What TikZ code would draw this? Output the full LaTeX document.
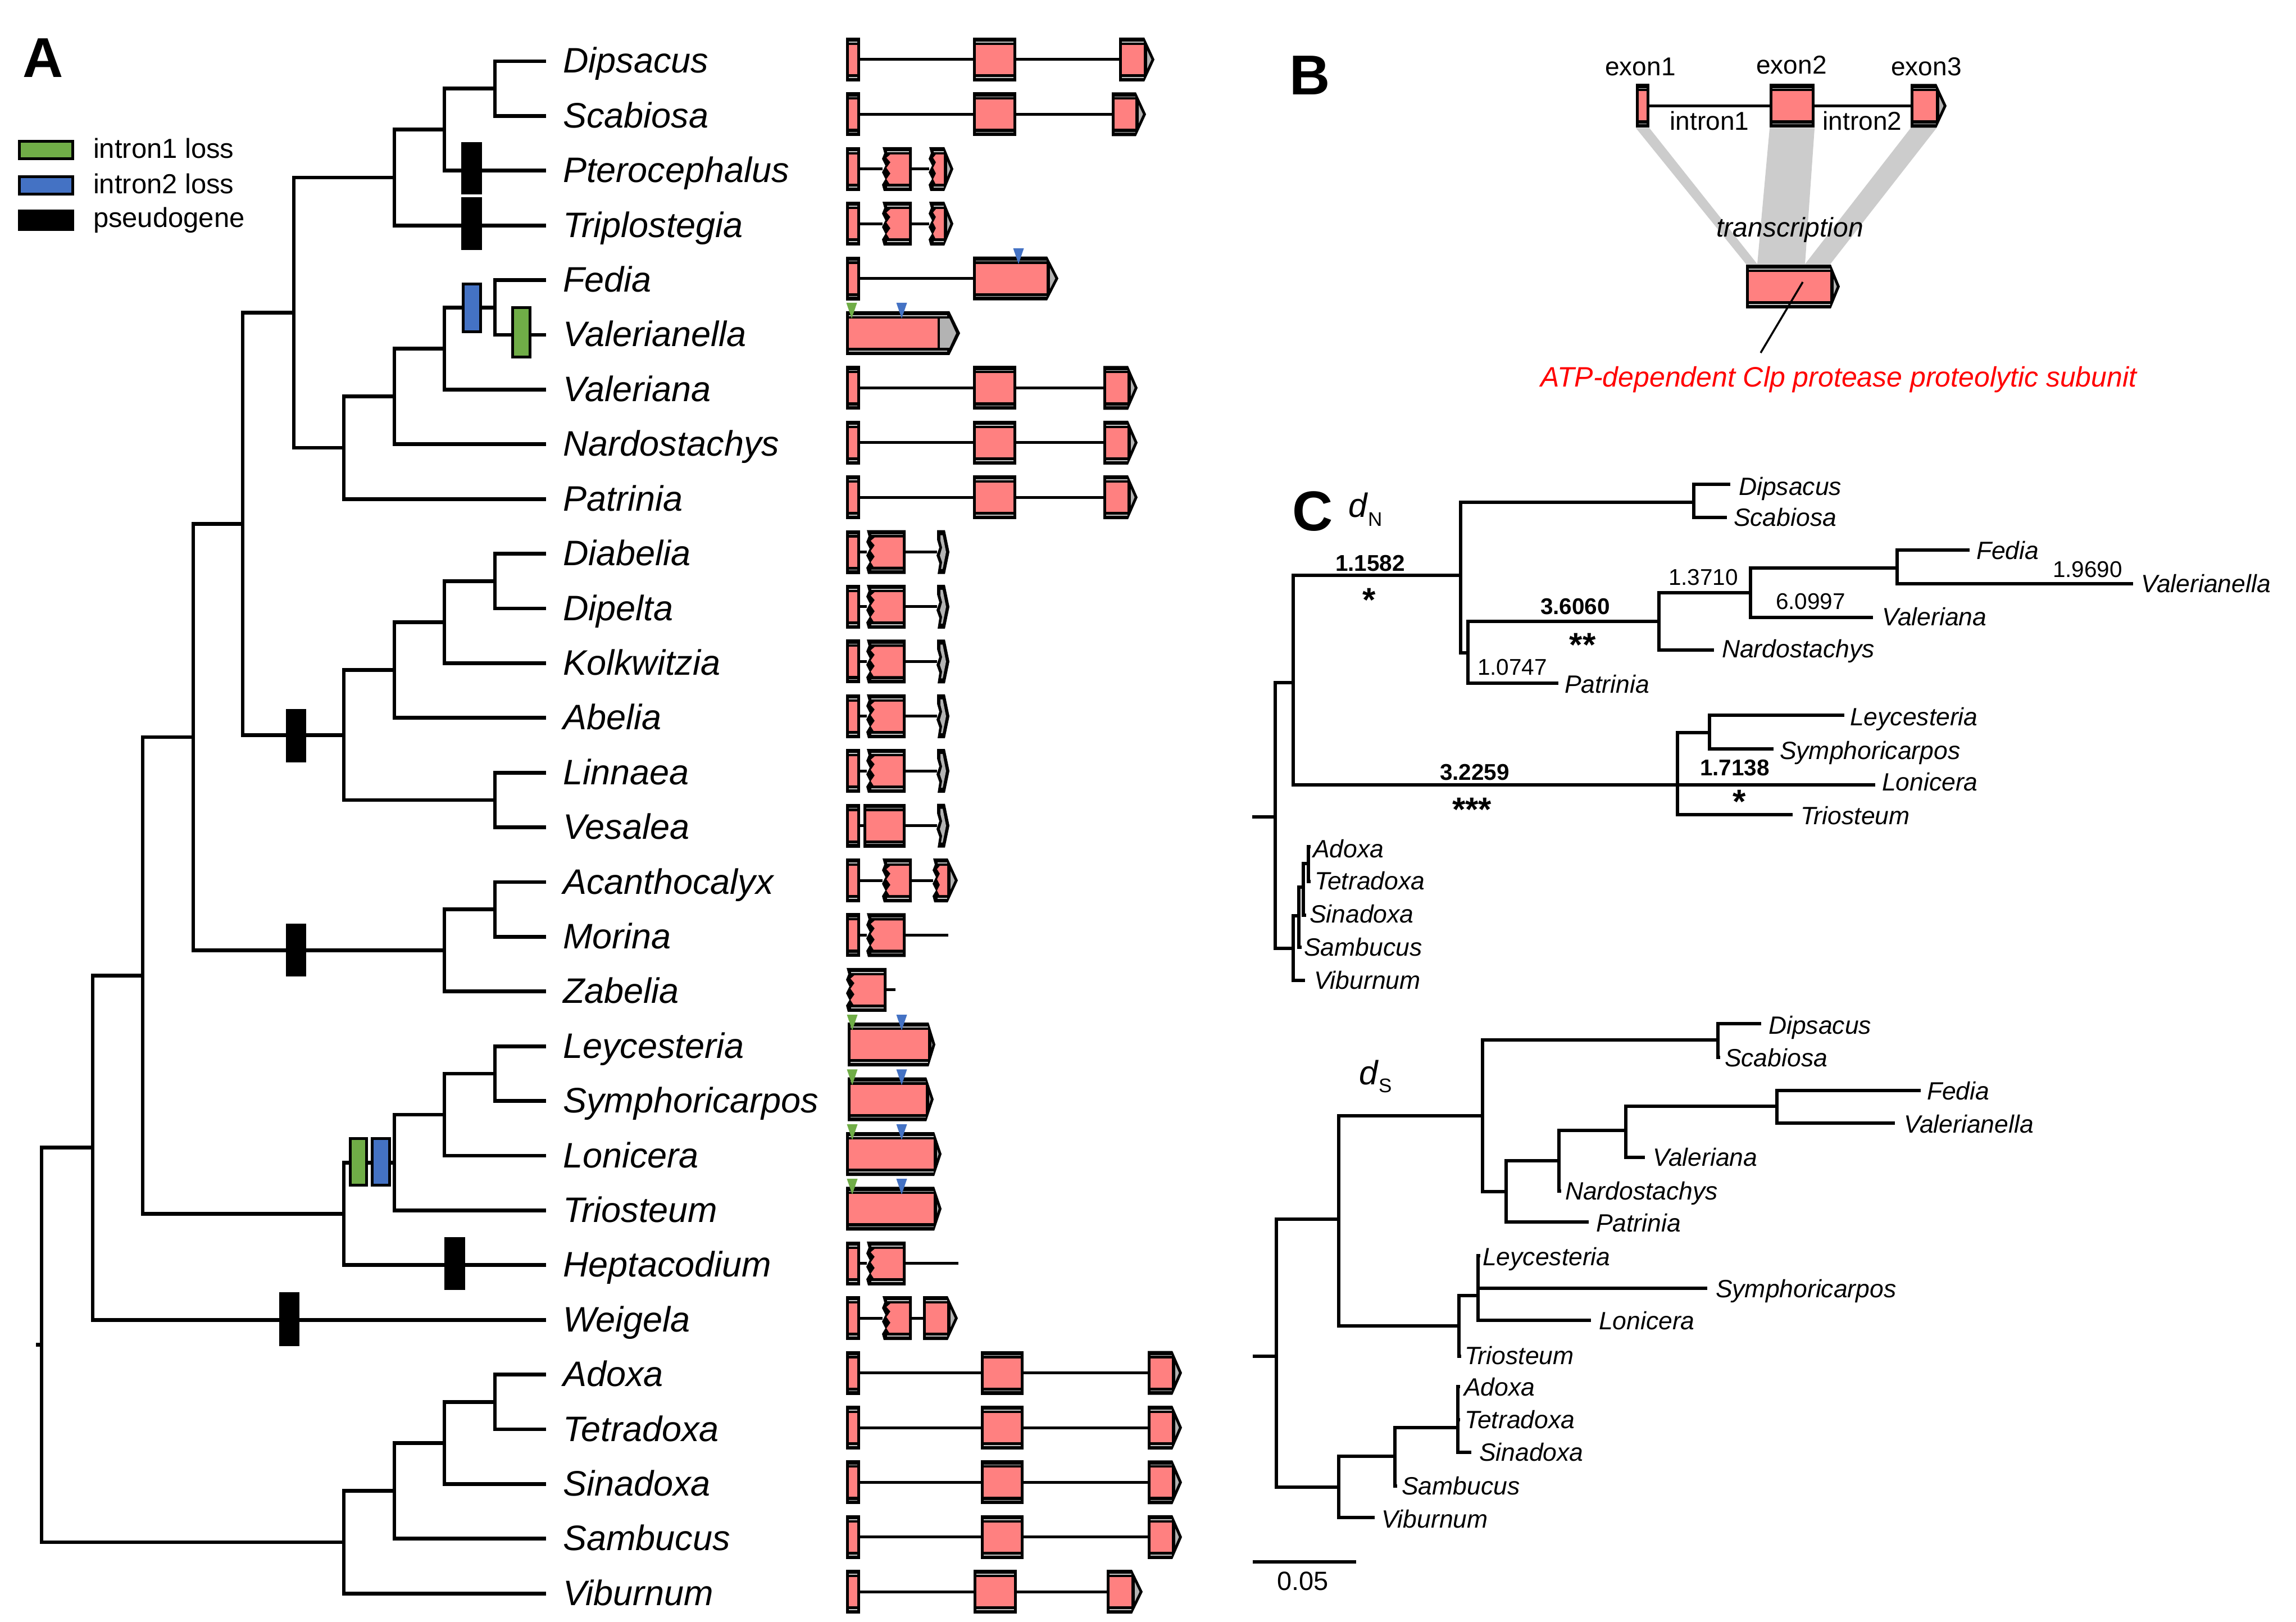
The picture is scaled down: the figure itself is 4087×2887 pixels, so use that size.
\documentclass[tikz,border=0pt]{standalone}
\usepackage{fontspec}
\setmainfont{Liberation Sans}
\definecolor{exonpink}{HTML}{FF8080}
\definecolor{arrowgray}{HTML}{B3B3B3}
\definecolor{bandgray}{HTML}{CCCCCC}
\definecolor{lossgreen}{HTML}{70AD47}
\definecolor{lossblue}{HTML}{4472C4}
\definecolor{thinc}{HTML}{C8C8C8}
\definecolor{redtext}{HTML}{FF0000}
\tikzset{
  tree/.style={line width=1.35pt},
  ctree/.style={line width=1.15pt},
  intronline/.style={line width=1pt},
  thinline/.style={draw=thinc, line width=0.3pt},
  lossbox/.style={draw=black, line width=1pt},
  taxA/.style={font=\fontsize{12.6}{14}\selectfont\itshape, inner sep=0pt, outer sep=0pt, anchor=base west},
  taxC/.style={font=\fontsize{8.9}{10}\selectfont\itshape, inner sep=0pt, outer sep=0pt, anchor=base west},
  blab/.style={font=\fontsize{8.1}{9}\selectfont, inner sep=0pt, anchor=base},
  blabb/.style={font=\fontsize{8.1}{9}\selectfont\bfseries, inner sep=0pt, anchor=base},
  starlab/.style={font=\fontsize{12}{13}\selectfont\bfseries, inner sep=0pt, anchor=base},
  plab/.style={font=\fontsize{20}{22}\selectfont\bfseries, inner sep=0pt, anchor=base west},
  leg/.style={font=\fontsize{9.8}{11}\selectfont, inner sep=0pt, anchor=base west},
  btext/.style={font=\fontsize{9.2}{11}\selectfont, inner sep=0pt, anchor=base},
}
% standard exon
\newcommand\gExon[3]{%
  \fill[black] (#1,#3-39) rectangle (#2,#3+39);
  \fill[exonpink] (#1+5,#3-26) rectangle (#2-5,#3+26);
  \draw[thinline] (#1+5,#3-31) -- (#2-5,#3-31) (#1+5,#3+32) -- (#2-5,#3+32);
}
% exon with torn left edge
\newcommand\gExonZ[3]{%
  \fill[black] (#1,#3-39) -- (#2,#3-39) -- (#2,#3+39) -- (#1+2,#3+39) -- (#1-1,#3+28) -- (#1+5,#3+18) -- (#1-1,#3+6) -- (#1+5,#3-6) -- (#1-1,#3-18) -- (#1+3,#3-28) -- cycle;
  \fill[exonpink] (#1+14,#3-26) -- (#2-5,#3-26) -- (#2-5,#3+26) -- (#1+12,#3+26) -- (#1+7,#3+18) -- (#1+14,#3+8) -- (#1+7,#3-2) -- (#1+14,#3-12) -- (#1+7,#3-20) -- cycle;
  \draw[thinline] (#1+8,#3-31) -- (#2-5,#3-31) (#1+8,#3+32) -- (#2-5,#3+32);
}
% terminal exon with arrow point
\newcommand\gArrow[4]{%
  \pgfmathsetmacro\gL{#3-#2}%
  \pgfmathsetmacro\gS{5/sin(atan(39/\gL))}%
  \pgfmathsetmacro\gH{max(0,(\gL-5-\gS)*39/\gL)}%
  \fill[black] (#1,#4-39) -- (#2,#4-39) -- (#3,#4) -- (#2,#4+39) -- (#1,#4+39) -- cycle;
  \fill[arrowgray] (#2+5,#4-\gH) -- (#3-\gS,#4) -- (#2+5,#4+\gH) -- cycle;
  \fill[exonpink] (#1+5,#4-26) rectangle (#2-1,#4+26);
  \draw[thinline] (#1+5,#4-31) -- (#2-1,#4-31) (#1+5,#4+32) -- (#2-1,#4+32);
}
% terminal exon with arrow point and torn left edge
\newcommand\gArrowZ[4]{%
  \pgfmathsetmacro\gL{#3-#2}%
  \pgfmathsetmacro\gS{5/sin(atan(39/\gL))}%
  \pgfmathsetmacro\gH{max(0,(\gL-5-\gS)*39/\gL)}%
  \fill[black] (#1,#4-39) -- (#2,#4-39) -- (#3,#4) -- (#2,#4+39) -- (#1+2,#4+39) -- (#1-1,#4+28) -- (#1+5,#4+18) -- (#1-1,#4+6) -- (#1+5,#4-6) -- (#1-1,#4-18) -- (#1+3,#4-28) -- cycle;
  \fill[arrowgray] (#2+5,#4-\gH) -- (#3-\gS,#4) -- (#2+5,#4+\gH) -- cycle;
  \fill[exonpink] (#1+12,#4-26) -- (#2-1,#4-26) -- (#2-1,#4+26) -- (#1+11,#4+26) -- (#1+7,#4+18) -- (#1+12,#4+8) -- (#1+7,#4-2) -- (#1+12,#4-12) -- (#1+7,#4-20) -- cycle;
  \draw[thinline] (#1+8,#4-31) -- (#2-1,#4-31) (#1+8,#4+32) -- (#2-1,#4+32);
}
% narrow grey chevron exon
\newcommand\gChev[3]{%
  \fill[black] (#1,#3-39) -- (#1+14,#3-39) -- (#2,#3) -- (#1+14,#3+39) -- (#1+1,#3+39) -- (#1+4,#3+20) -- (#1-1,#3+6) -- (#1+4,#3-8) -- (#1,#3-22) -- cycle;
  \fill[arrowgray] (#1+6,#3-30) -- (#1+10,#3-30) -- (#2-6,#3) -- (#1+10,#3+30) -- (#1+7,#3+30) -- (#1+9,#3+18) -- (#1+5,#3+6) -- (#1+9,#3-8) -- (#1+6,#3-20) -- cycle;
}
\newcommand\gIntron[3]{\draw[intronline] (#1,#3) -- (#2,#3);}
% three-exon gene: y, exon2 start, exon2 end, exon3 start, exon3 end, tip
\newcommand\gThree[6]{%
  \gIntron{1531}{#2}{#1}\gIntron{#3}{#4}{#1}%
  \gExon{1506}{1531}{#1}\gExon{#2}{#3}{#1}\gArrow{#4}{#5}{#6}{#1}%
}
\newcommand\gTri[3]{\fill[#1] (#2-9.5,#3) -- (#2+9.5,#3) -- (#2,#3+28) -- cycle;}
\begin{document}
\begin{tikzpicture}[x=0.2pt,y=-0.2pt]
\fill[white] (0,0) rectangle (4087,2887);
\useasboundingbox (0,0) rectangle (4087,2887);

%================ PANEL A ================
\node[plab] (labA) at (39,138) {A};
\draw[lossbox, fill=lossgreen] (34.5,251.5) rectangle (129.5,282.5);
\draw[lossbox, fill=lossblue] (34.5,314.5) rectangle (129.5,345.5);
\fill[black] (32,373) rectangle (132,411);
\node[leg] (lg1) at (165,282) {intron1 loss};
\node[leg] (lg2) at (165,345) {intron2 loss};
\node[leg] (lg3) at (165,405) {pseudogene};

\foreach \nm [count=\i from 0] in {Dipsacus,Scabiosa,Pterocephalus,Triplostegia,Fedia,Valerianella,Valeriana,Nardostachys,Patrinia,Diabelia,Dipelta,Kolkwitzia,Abelia,Linnaea,Vesalea,Acanthocalyx,Morina,Zabelia,Leycesteria,Symphoricarpos,Lonicera,Triosteum,Heptacodium,Weigela,Adoxa,Tetradoxa,Sinadoxa,Sambucus,Viburnum}{
  \pgfmathsetmacro\yy{109+97.4*\i}
  \node[taxA] (a\i) at (1002,\yy+21) {\nm};
  \coordinate (tip\i) at (972,\yy);
}

\coordinate (nDS) at (881,157.7);
\coordinate (nDSP) at (791,230.75);
\coordinate (nDSPT) at (702,316);
\coordinate (nFV) at (881,547.3);
\coordinate (nFVV) at (791,620.35);
\coordinate (nFVVN) at (702,705.6);
\coordinate (nVal) at (612,796.9);
\coordinate (nDipVal) at (523,556.4);
\coordinate (nDD) at (881,1034.3);
\coordinate (nDDK) at (791,1107.35);
\coordinate (nDDKA) at (702,1192.6);
\coordinate (nLV) at (881,1423.9);
\coordinate (nLinn) at (612,1308.25);
\coordinate (nDVL) at (432,932.3);
\coordinate (nAM) at (881,1618.7);
\coordinate (nMor) at (791,1691.75);
\coordinate (nDVLM) at (344,1312);
\coordinate (nLS) at (881,1910.9);
\coordinate (nLSL) at (791,1984);
\coordinate (nLSLT) at (702,2069.2);
\coordinate (nCap) at (612,2160.5);
\coordinate (nCapr) at (254,1736.25);
\coordinate (nCaprW) at (165,2042.7);
\coordinate (nAT) at (881,2495.3);
\coordinate (nATS) at (791,2568.35);
\coordinate (nATSS) at (702,2653.6);
\coordinate (nAdox) at (612,2744.9);
\coordinate (nRoot) at (74,2393.8);
\coordinate (nStub) at (64,2393.8);

\draw[tree] (nDS) |- (tip0) (nDS) |- (tip1);
\draw[tree] (nDSP) |- (nDS) (nDSP) |- (tip2);
\draw[tree] (nDSPT) |- (nDSP) (nDSPT) |- (tip3);
\draw[tree] (nFV) |- (tip4) (nFV) |- (tip5);
\draw[tree] (nFVV) |- (nFV) (nFVV) |- (tip6);
\draw[tree] (nFVVN) |- (nFVV) (nFVVN) |- (tip7);
\draw[tree] (nVal) |- (nFVVN) (nVal) |- (tip8);
\draw[tree] (nDipVal) |- (nDSPT) (nDipVal) |- (nVal);
\draw[tree] (nDD) |- (tip9) (nDD) |- (tip10);
\draw[tree] (nDDK) |- (nDD) (nDDK) |- (tip11);
\draw[tree] (nDDKA) |- (nDDK) (nDDKA) |- (tip12);
\draw[tree] (nLV) |- (tip13) (nLV) |- (tip14);
\draw[tree] (nLinn) |- (nDDKA) (nLinn) |- (nLV);
\draw[tree] (nDVL) |- (nDipVal) (nDVL) |- (nLinn);
\draw[tree] (nAM) |- (tip15) (nAM) |- (tip16);
\draw[tree] (nMor) |- (nAM) (nMor) |- (tip17);
\draw[tree] (nDVLM) |- (nDVL) (nDVLM) |- (nMor);
\draw[tree] (nLS) |- (tip18) (nLS) |- (tip19);
\draw[tree] (nLSL) |- (nLS) (nLSL) |- (tip20);
\draw[tree] (nLSLT) |- (nLSL) (nLSLT) |- (tip21);
\draw[tree] (nCap) |- (nLSLT) (nCap) |- (tip22);
\draw[tree] (nCapr) |- (nDVLM) (nCapr) |- (nCap);
\draw[tree] (nCaprW) |- (nCapr) (nCaprW) |- (tip23);
\draw[tree] (nAT) |- (tip24) (nAT) |- (tip25);
\draw[tree] (nATS) |- (nAT) (nATS) |- (tip26);
\draw[tree] (nATSS) |- (nATS) (nATSS) |- (tip27);
\draw[tree] (nAdox) |- (nATSS) (nAdox) |- (tip28);
\draw[tree] (nRoot) |- (nCaprW) (nRoot) |- (nAdox);
\draw[tree] (nStub) -- (nRoot);

% events on the tree
\fill[black] (821,253) rectangle (858,346);
\fill[black] (821,351) rectangle (858,445);
\draw[lossbox, fill=lossblue] (824.5,505.5) rectangle (855.5,590.5);
\draw[lossbox, fill=lossgreen] (912.5,547.5) rectangle (943.5,635.5);
\fill[black] (509,1262) rectangle (545,1357);
\fill[black] (509,1644) rectangle (545,1738);
\draw[lossbox, fill=lossgreen] (623.5,2026.5) rectangle (652.5,2109.5);
\draw[lossbox, fill=lossblue] (662.5,2026.5) rectangle (693.5,2109.5);
\fill[black] (791,2202) rectangle (828,2296);
\fill[black] (497,2300) rectangle (533,2396);

% gene structures
\gThree{106}{1732}{1809}{1992}{2037}{2055}
\gThree{203.4}{1732}{1809}{1979}{2022}{2040}
\foreach \yy in {300.8,398.2}{
  \gIntron{1531}{1571}{\yy}\gIntron{1623}{1654}{\yy}
  \gExon{1506}{1531}{\yy}\gExonZ{1571}{1623}{\yy}\gArrowZ{1654}{1681}{1697}{\yy}
}
% Fedia
\gIntron{1531}{1732}{495.6}
\gExon{1506}{1531}{495.6}\gArrow{1732}{1864}{1884}{495.6}
\gTri{lossblue}{1813}{442}
% Valerianella
\fill[black] (1506,554) -- (1690,554) -- (1709,593) -- (1690,632) -- (1506,632) -- cycle;
\fill[arrowgray] (1673,567) -- (1690,567) -- (1702,593) -- (1690,619) -- (1673,619) -- cycle;
\fill[exonpink] (1511,567) rectangle (1669,619);
\draw[thinline] (1511,562) -- (1686,562) (1511,625) -- (1686,625);
\gTri{lossgreen}{1516}{539}
\gTri{lossblue}{1605}{539}
% Valeriana, Nardostachys, Patrinia
\gThree{690.4}{1732}{1809}{1964}{2008}{2025}
\gThree{787.8}{1732}{1809}{1964}{2008}{2025}
\gThree{885.2}{1732}{1809}{1964}{2008}{2025}
% Linnaeoideae
\foreach \yy in {982.6,1080,1177.4,1274.8,1372.2}{
  \gIntron{1531}{1543}{\yy}\gIntron{1612}{1668}{\yy}
  \gExon{1506}{1531}{\yy}\gExonZ{1543}{1612}{\yy}\gChev{1668}{1690}{\yy}
}
\gIntron{1531}{1537}{1469.6}\gIntron{1612}{1668}{1469.6}
\gExon{1506}{1531}{1469.6}\gExon{1537}{1612}{1469.6}\gChev{1668}{1690}{1469.6}
% Acanthocalyx
\gIntron{1531}{1571}{1567}\gIntron{1623}{1661}{1567}
\gExon{1506}{1531}{1567}\gExonZ{1571}{1623}{1567}\gArrowZ{1661}{1687}{1705}{1567}
% Morina
\gIntron{1531}{1543}{1664.4}\gIntron{1612}{1688}{1664.4}
\gExon{1506}{1531}{1664.4}\gExonZ{1543}{1612}{1664.4}
% Zabelia
\gIntron{1578}{1594}{1761.8}
\gExonZ{1507}{1578}{1761.8}
% Caprifolieae
\gArrow{1509}{1653}{1665}{1859.2}
\gArrow{1509}{1649}{1662}{1956.6}
\gArrow{1506}{1663}{1676}{2054}
\gArrow{1506}{1663}{1676}{2151.4}
\foreach \yy in {1806,1903.4,2001,2098.2}{
  \gTri{lossgreen}{1517}{\yy}
  \gTri{lossblue}{1605}{\yy}
}
% Heptacodium
\gIntron{1531}{1543}{2248.8}\gIntron{1612}{1706}{2248.8}
\gExon{1506}{1531}{2248.8}\gExonZ{1543}{1612}{2248.8}
% Weigela
\gIntron{1531}{1571}{2346.2}\gIntron{1623}{1643}{2346.2}
\gExon{1506}{1531}{2346.2}\gExonZ{1571}{1623}{2346.2}\gArrow{1643}{1687}{1705}{2346.2}
% Adoxaceae
\gThree{2443.6}{1746}{1822}{2043}{2087}{2104}
\gThree{2541}{1746}{1822}{2043}{2087}{2104}
\gThree{2638.4}{1746}{1822}{2043}{2087}{2104}
\gThree{2735.8}{1746}{1822}{2043}{2087}{2104}
\gThree{2833.2}{1733}{1810}{1970}{2015}{2034}

%================ PANEL B ================
\node[plab] (labB) at (2294,169) {B};
\fill[bandgray] (2912,228) -- (2936,228) -- (3128,470) -- (3108,470) -- cycle;
\fill[bandgray] (3150,228) -- (3230,228) -- (3213,470) -- (3128,470) -- cycle;
\fill[bandgray] (3401,228) -- (3447,228) -- (3258,470) -- (3213,470) -- cycle;
\gIntron{2936}{3150}{188.5}
\gIntron{3230}{3401}{188.5}
\gExon{2912}{2936}{188.5}
\gExon{3150}{3230}{188.5}
\gArrow{3401}{3447}{3465}{188.5}
\gArrow{3108}{3259}{3275}{510}
\node[btext] (ex1) at (2920,135) {exon1};
\node[btext] (ex2) at (3189,132) {exon2};
\node[btext] (ex3) at (3429,135) {exon3};
\node[btext] (in1) at (3043,232) {intron1};
\node[btext] (in2) at (3315,232) {intron2};
\node[btext, font=\fontsize{9.6}{11}\selectfont\itshape] (trx) at (3186,422) {transcription};
\coordinate (ptrA) at (3209,502);
\coordinate (ptrB) at (3134,628);
\draw[line width=0.7pt] (ptrA) -- (ptrB);
\node[btext, font=\fontsize{10}{12}\selectfont\itshape, text=redtext] (prot) at (3273,689) {ATP-dependent Clp protease proteolytic subunit};

%================ PANEL C (dN) ================
\node[plab] (labC) at (2299,945) {C};
\node[inner sep=0pt, anchor=base west, font=\fontsize{12}{14}\selectfont\itshape] (dN) at (2399,921) {d};
\node[inner sep=0pt, anchor=base west, font=\fontsize{7}{8}\selectfont] (dNs) at (2434,937) {N};

\coordinate (cStub) at (2229,1454);
\coordinate (cR) at (2270,1454);
\coordinate (cCD) at (2302,1215);
\coordinate (cAD) at (2302,1688);
\coordinate (cS1) at (2312,1630);
\coordinate (cS2) at (2320,1579);
\coordinate (cS3) at (2329,1537);
\coordinate (cAdo) at (2333,1507);
\coordinate (cTet) at (2333,1569);
\coordinate (cSin) at (2325,1629);
\coordinate (cSam) at (2317,1686);
\coordinate (cVib) at (2323,1745);
\coordinate (cX1) at (2600,1024);
\coordinate (cX2) at (2986,1397);
\coordinate (cDS) at (3015,894);
\coordinate (cX3) at (2613,1162);
\coordinate (cDip) at (3080,862);
\coordinate (cSca) at (3074,921);
\coordinate (cX4) at (2953,1106);
\coordinate (cPat) at (2774,1216);
\coordinate (cX5) at (3116,1055);
\coordinate (cNar) at (3051,1157);
\coordinate (cX6) at (3377,1011);
\coordinate (cVal) at (3334,1099);
\coordinate (cFed) at (3506,979);
\coordinate (cVan) at (3797,1039);
\coordinate (cX7) at (3043,1304);
\coordinate (cLon) at (3338,1397);
\coordinate (cTri) at (3191,1450);
\coordinate (cLey) at (3283,1273);
\coordinate (cSym) at (3157,1333);

\draw[ctree] (cStub) -- (cR);
\draw[ctree] (cR) |- (cCD) (cR) |- (cAD);
\draw[ctree] (cAD) |- (cS1) (cAD) |- (cVib);
\draw[ctree] (cS1) |- (cS2) (cS1) |- (cSam);
\draw[ctree] (cS2) |- (cS3) (cS2) |- (cSin);
\draw[ctree] (cS3) |- (cAdo) (cS3) |- (cTet);
\draw[ctree] (cCD) |- (cX1) (cCD) |- (cX2);
\draw[ctree] (cX1) |- (cDS) (cX1) |- (cX3);
\draw[ctree] (cDS) |- (cDip) (cDS) |- (cSca);
\draw[ctree] (cX3) |- (cX4) (cX3) |- (cPat);
\draw[ctree] (cX4) |- (cX5) (cX4) |- (cNar);
\draw[ctree] (cX5) |- (cX6) (cX5) |- (cVal);
\draw[ctree] (cX6) |- (cFed) (cX6) |- (cVan);
\draw[ctree] (cX2) |- (cX7) (cX2) |- (cLon) (cX2) |- (cTri);
\draw[ctree] (cX7) |- (cLey) (cX7) |- (cSym);

\node[taxC] (cDipT) at (3095,882) {Dipsacus};
\node[taxC] (cScaT) at (3086,937) {Scabiosa};
\node[taxC] (cFedT) at (3518,996) {Fedia};
\node[taxC] (cVanT) at (3811,1055) {Valerianella};
\node[taxC] (cValT) at (3350,1113) {Valeriana};
\node[taxC] (cNarT) at (3065,1171) {Nardostachys};
\node[taxC] (cPatT) at (2785,1234) {Patrinia};
\node[taxC] (cLeyT) at (3293,1291) {Leycesteria};
\node[taxC] (cSymT) at (3168,1351) {Symphoricarpos};
\node[taxC] (cLonT) at (3350,1407) {Lonicera};
\node[taxC] (cTriT) at (3205,1467) {Triosteum};
\node[taxC] (cAdoT) at (2337,1526) {Adoxa};
\node[taxC] (cTetT) at (2340,1583) {Tetradoxa};
\node[taxC] (cSinT) at (2331,1642) {Sinadoxa};
\node[taxC] (cSamT) at (2321,1701) {Sambucus};
\node[taxC] (cVibT) at (2339,1760) {Viburnum};

\node[blabb] (b1) at (2439,1017) {1.1582};
\node[starlab] (s1) at (2437,1088) {*};
\node[blabb] (b2) at (2804,1093) {3.6060};
\node[starlab] (s2) at (2817,1168) {**};
\node[blabb] (b3) at (2625,1388) {3.2259};
\node[starlab] (s3) at (2620,1461) {***};
\node[blabb] (b4) at (3088,1380) {1.7138};
\node[starlab] (s4) at (3096,1447) {*};
\node[blab] (b5) at (3032,1042) {1.3710};
\node[blab] (b6) at (2692,1202) {1.0747};
\node[blab] (b7) at (3223,1084) {6.0997};
\node[blab] (b8) at (3716,1028) {1.9690};

%================ PANEL C (dS) ================
\node[inner sep=0pt, anchor=base west, font=\fontsize{12}{14}\selectfont\itshape] (dS) at (2418,1930) {d};
\node[inner sep=0pt, anchor=base west, font=\fontsize{7}{8}\selectfont] (dSs) at (2453,1944) {S};

\coordinate (sStub) at (2230,2414);
\coordinate (sR) at (2272,2414);
\coordinate (sY1) at (2383,2170);
\coordinate (sZ1) at (2383,2647);
\coordinate (sY2) at (2639,1986);
\coordinate (sY7) at (2597,2360);
\coordinate (sY3) at (3058,1851);
\coordinate (sY4) at (2681,2121);
\coordinate (sDip) at (3135,1822);
\coordinate (sSca) at (3062,1882);
\coordinate (sY5) at (2775,2066);
\coordinate (sPat) at (2828,2175);
\coordinate (sY6) at (2894,2012);
\coordinate (sNar) at (2779,2120);
\coordinate (sY8) at (3163,1969);
\coordinate (sVal) at (2928,2060);
\coordinate (sFed) at (3419,1941);
\coordinate (sVan) at (3373,1999);
\coordinate (sY9) at (2631,2306);
\coordinate (sTri) at (2601,2414);
\coordinate (sLey) at (2635,2235);
\coordinate (sSym) at (3039,2293);
\coordinate (sLon) at (2832,2350);
\coordinate (sZ2) at (2483,2592);
\coordinate (sVib) at (2447,2701);
\coordinate (sZ3) at (2595,2541);
\coordinate (sSam) at (2487,2645);
\coordinate (sAdo) at (2599,2468);
\coordinate (sTet) at (2599,2527);
\coordinate (sSin) at (2619,2585);

\draw[ctree] (sStub) -- (sR);
\draw[ctree] (sR) |- (sY1) (sR) |- (sZ1);
\draw[ctree] (sY1) |- (sY2) (sY1) |- (sY7);
\draw[ctree] (sY2) |- (sY3) (sY2) |- (sY4);
\draw[ctree] (sY3) |- (sDip) (sY3) |- (sSca);
\draw[ctree] (sY4) |- (sY5) (sY4) |- (sPat);
\draw[ctree] (sY5) |- (sY6) (sY5) |- (sNar);
\draw[ctree] (sY6) |- (sY8) (sY6) |- (sVal);
\draw[ctree] (sY8) |- (sFed) (sY8) |- (sVan);
\draw[ctree] (sY7) |- (sY9) (sY7) |- (sTri);
\draw[ctree] (sY9) |- (sLey) (sY9) |- (sSym) (sY9) |- (sLon);
\draw[ctree] (sZ1) |- (sZ2) (sZ1) |- (sVib);
\draw[ctree] (sZ2) |- (sZ3) (sZ2) |- (sSam);
\draw[ctree] (sZ3) |- (sAdo) (sZ3) |- (sTet) (sZ3) |- (sSin);

\node[taxC] (sDipT) at (3148,1840) {Dipsacus};
\node[taxC] (sScaT) at (3070,1898) {Scabiosa};
\node[taxC] (sFedT) at (3430,1957) {Fedia};
\node[taxC] (sVanT) at (3389,2016) {Valerianella};
\node[taxC] (sValT) at (2942,2075) {Valeriana};
\node[taxC] (sNarT) at (2786,2135) {Nardostachys};
\node[taxC] (sPatT) at (2841,2192) {Patrinia};
\node[taxC] (sLeyT) at (2639,2252) {Leycesteria};
\node[taxC] (sSymT) at (3054,2309) {Symphoricarpos};
\node[taxC] (sLonT) at (2846,2366) {Lonicera};
\node[taxC] (sTriT) at (2607,2428) {Triosteum};
\node[taxC] (sAdoT) at (2606,2484) {Adoxa};
\node[taxC] (sTetT) at (2607,2542) {Tetradoxa};
\node[taxC] (sSinT) at (2633,2600) {Sinadoxa};
\node[taxC] (sSamT) at (2495,2660) {Sambucus};
\node[taxC] (sVibT) at (2459,2719) {Viburnum};

\coordinate (sb1) at (2230,2780);
\coordinate (sb2) at (2414,2780);
\draw[ctree] (sb1) -- (sb2);
\node[inner sep=0pt, anchor=base, font=\fontsize{9.4}{11}\selectfont] (sbl) at (2319,2830) {0.05};
\end{tikzpicture}
\end{document}
